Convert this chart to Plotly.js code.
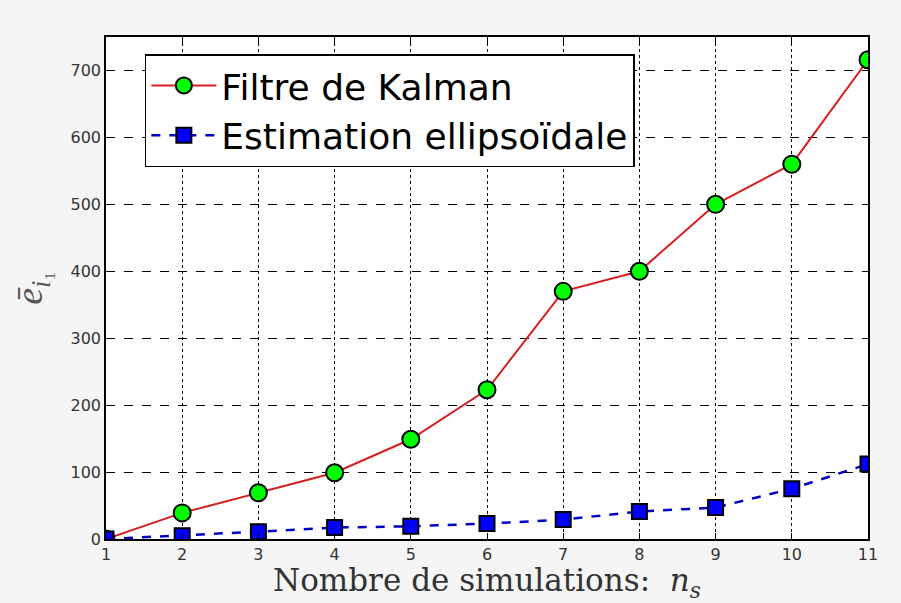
<!DOCTYPE html>
<html><head><meta charset="utf-8">
<script src="https://cdn.plot.ly/plotly-3.0.1.min.js"></script>
<style>body{margin:0;background:#f5f5f5}</style>
</head><body><div id="chart" style="width:901px;height:603px"></div>
<script>
const ns = [1,2,3,4,5,6,7,8,9,10,11];
const kalman = [0,39,69,99,149,223,370,400,500,560,716];
const ellips = [0,5,11,17,19,23,29,41,47,75,112];
const xTicks = [1,2,3,4,5,6,7,8,9,10,11];
const yTicks = [0,100,200,300,400,500,600,700];

const traces = [
  {x: ns, y: kalman, mode:'lines+markers', name:'Filtre de Kalman',
   line:{color:'#d42020', width:2},
   marker:{symbol:'circle', size:17, color:'#00ff00', line:{color:'#000', width:2}}},
  {x: ns, y: ellips, mode:'lines+markers', name:'Estimation ellipsoïdale',
   line:{color:'#0000c8', width:2.5, dash:'dash'},
   marker:{symbol:'square', size:15, color:'#0000ff', line:{color:'#000', width:2}}}
];
const layout = {
  width:901, height:603,
  paper_bgcolor:'#f5f5f5', plot_bgcolor:'#ffffff',
  margin:{l:106, r:33, t:37, b:64},
  font:{family:'DejaVu Sans, Liberation Sans, sans-serif', size:16, color:'#333'},
  xaxis:{range:[1,11], tickvals:xTicks, ticktext:xTicks.map(String),
    showgrid:true, gridcolor:'#000', griddash:'dot', gridwidth:1,
    zeroline:false, showline:true, linecolor:'#000', linewidth:1.5, mirror:'ticks',
    ticks:'inside', ticklen:6, tickcolor:'#000',
    title:{text:'Nombre de simulations:  <i>n<sub>s</sub></i>', standoff:0,
      font:{family:'DejaVu Serif, Liberation Serif, serif', size:31, color:'#333'}}},
  yaxis:{range:[0,750], tickvals:yTicks, ticktext:yTicks.map(String),
    showgrid:true, gridcolor:'#000', griddash:'dash', gridwidth:1,
    zeroline:false, showline:true, linecolor:'#000', linewidth:1.5, mirror:'ticks',
    ticks:'inside', ticklen:6, tickcolor:'#000',
    title:{text:'<i>ē</i><sub><i>i</i>₁</sub>', standoff:16,
      font:{family:'Liberation Serif, DejaVu Serif, serif', size:38, color:'#555'}}},
  legend:{x:0.051, y:0.966, xanchor:'left', yanchor:'top',
    bgcolor:'#ffffff', bordercolor:'#000', borderwidth:1.5,
    itemwidth:65,
    font:{family:'DejaVu Sans, Liberation Sans, sans-serif', size:36, color:'#000'},
    tracegroupgap:0},
  showlegend:true
};
Plotly.newPlot('chart', traces, layout, {displayModeBar:false});
</script></body></html>
